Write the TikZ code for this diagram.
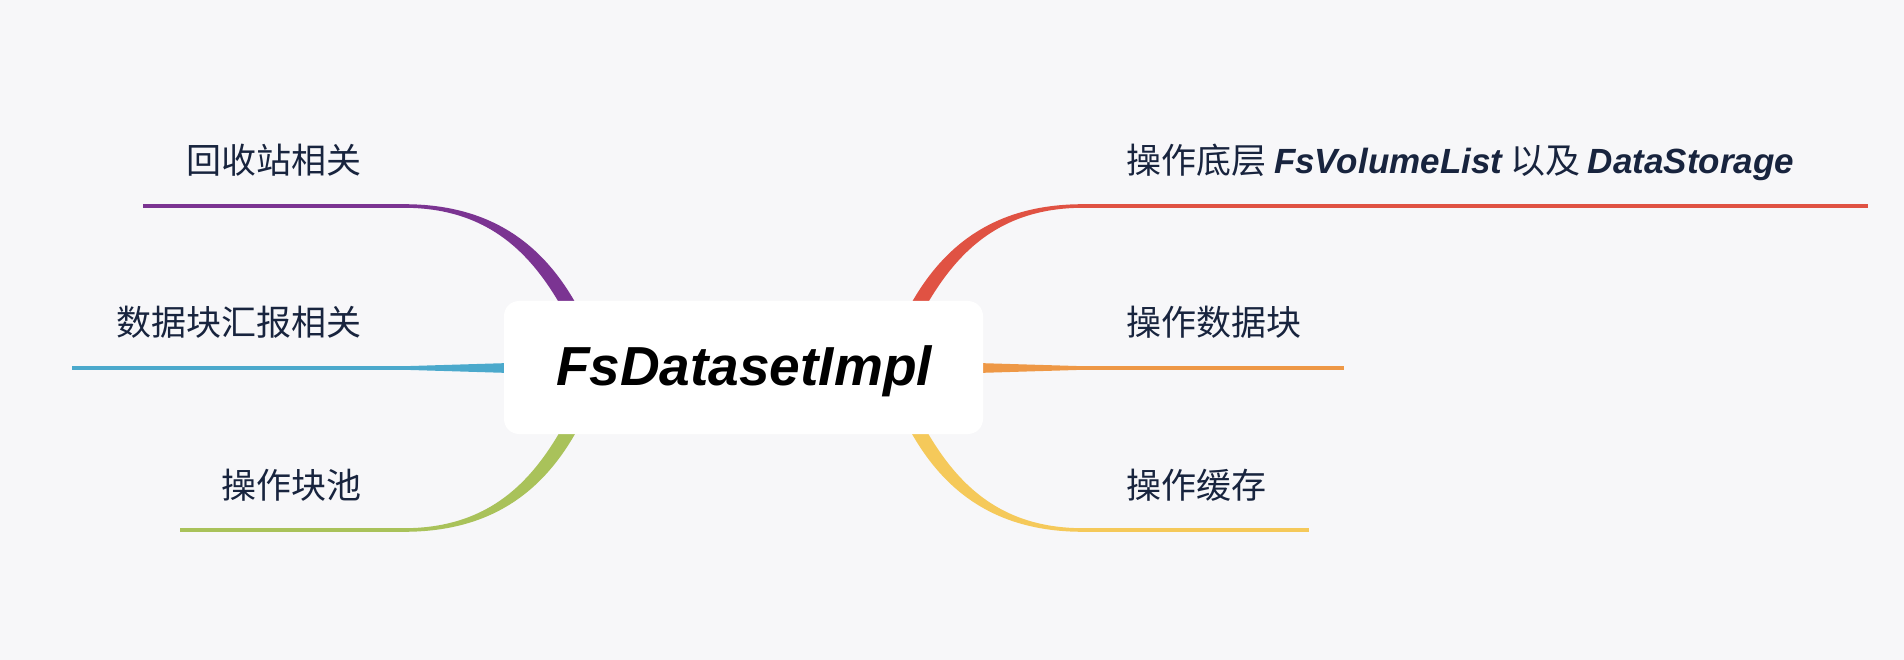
\documentclass[tikz,border=0pt]{standalone}
\usepackage{fontspec}
\newfontfamily\cjk{Noto Sans CJK SC}
\newfontfamily\hand{Liberation Sans}
\definecolor{bg}{RGB}{247,247,249}
\definecolor{cpurple}{RGB}{123,52,146}
\definecolor{cblue}{RGB}{75,169,204}
\definecolor{cgreen}{RGB}{169,194,90}
\definecolor{cred}{RGB}{224,82,67}
\definecolor{corange}{RGB}{238,152,70}
\definecolor{cyellow}{RGB}{245,201,90}
\definecolor{txt}{RGB}{24,36,62}
\tikzset{
  branchline/.style={line width=3.6pt},
  lbl/.style={inner sep=0pt, text=txt, font=\cjk\fontsize{35}{40}\selectfont},
  root/.style={fill=white, rounded corners=15pt, minimum width=479pt, minimum height=133pt, inner sep=0pt}
}
\begin{document}
\begin{tikzpicture}[x=1pt,y=-1pt]
\fill[bg] (0,0) rectangle (1904,660);
\useasboundingbox (0,0) rectangle (1904,660);
% joints and ends
\coordinate (j1) at (404,206); \coordinate (e1) at (143,206);
\coordinate (j2) at (404,368); \coordinate (e2) at (72,368);
\coordinate (j3) at (404,530); \coordinate (e3) at (180,530);
\coordinate (j4) at (1083,206); \coordinate (e4) at (1868,206);
\coordinate (j5) at (1083,368); \coordinate (e5) at (1344,368);
\coordinate (j6) at (1083,530); \coordinate (e6) at (1309,530);
% tapered branches
\fill[cpurple] (404,204.2) .. controls (495,204.2) and (548,248) .. (582,315) -- (566,315) .. controls (535,258) and (492,207.8) .. (404,207.8) -- cycle;
\fill[cgreen] (404,531.8) .. controls (495,531.8) and (548,488) .. (582,421) -- (566,421) .. controls (535,478) and (492,528.2) .. (404,528.2) -- cycle;
\fill[cred] (1083,204.2) .. controls (992,204.2) and (939,248) .. (905,315) -- (921,315) .. controls (952,258) and (995,207.8) .. (1083,207.8) -- cycle;
\fill[cyellow] (1083,531.8) .. controls (992,531.8) and (939,488) .. (905,421) -- (921,421) .. controls (952,478) and (995,528.2) .. (1083,528.2) -- cycle;
\fill[cblue] (510,363) -- (404,366.2) -- (404,369.8) -- (510,373) -- cycle;
\fill[corange] (977,363) -- (1083,366.2) -- (1083,369.8) -- (977,373) -- cycle;
% thin lines
\draw[branchline, cpurple] (j1) -- (e1);
\draw[branchline, cblue] (j2) -- (e2);
\draw[branchline, cgreen] (j3) -- (e3);
\draw[branchline, cred] (j4) -- (e4);
\draw[branchline, corange] (j5) -- (e5);
\draw[branchline, cyellow] (j6) -- (e6);
% root
\node[root] (c) at (743.5,367.5) {};
\node[anchor=base, inner sep=0pt, font=\hand\bfseries\itshape\fontsize{55}{60}\selectfont] (ct) at (744,385) {FsDatasetImpl};
% labels
\node[lbl, anchor=base east] (l1) at (362,174) {回收站相关};
\node[lbl, anchor=base east] (l2) at (362,336) {数据块汇报相关};
\node[lbl, anchor=base east] (l3) at (362,498) {操作块池};
\node[lbl, anchor=base west] (r1) at (1126,174) {操作底层 {\hand\bfseries\itshape FsVolumeList} 以及 {\hand\bfseries\itshape DataStorage}};
\node[lbl, anchor=base west] (r2) at (1126,336) {操作数据块};
\node[lbl, anchor=base west] (r3) at (1126,498) {操作缓存};
\end{tikzpicture}
\end{document}
